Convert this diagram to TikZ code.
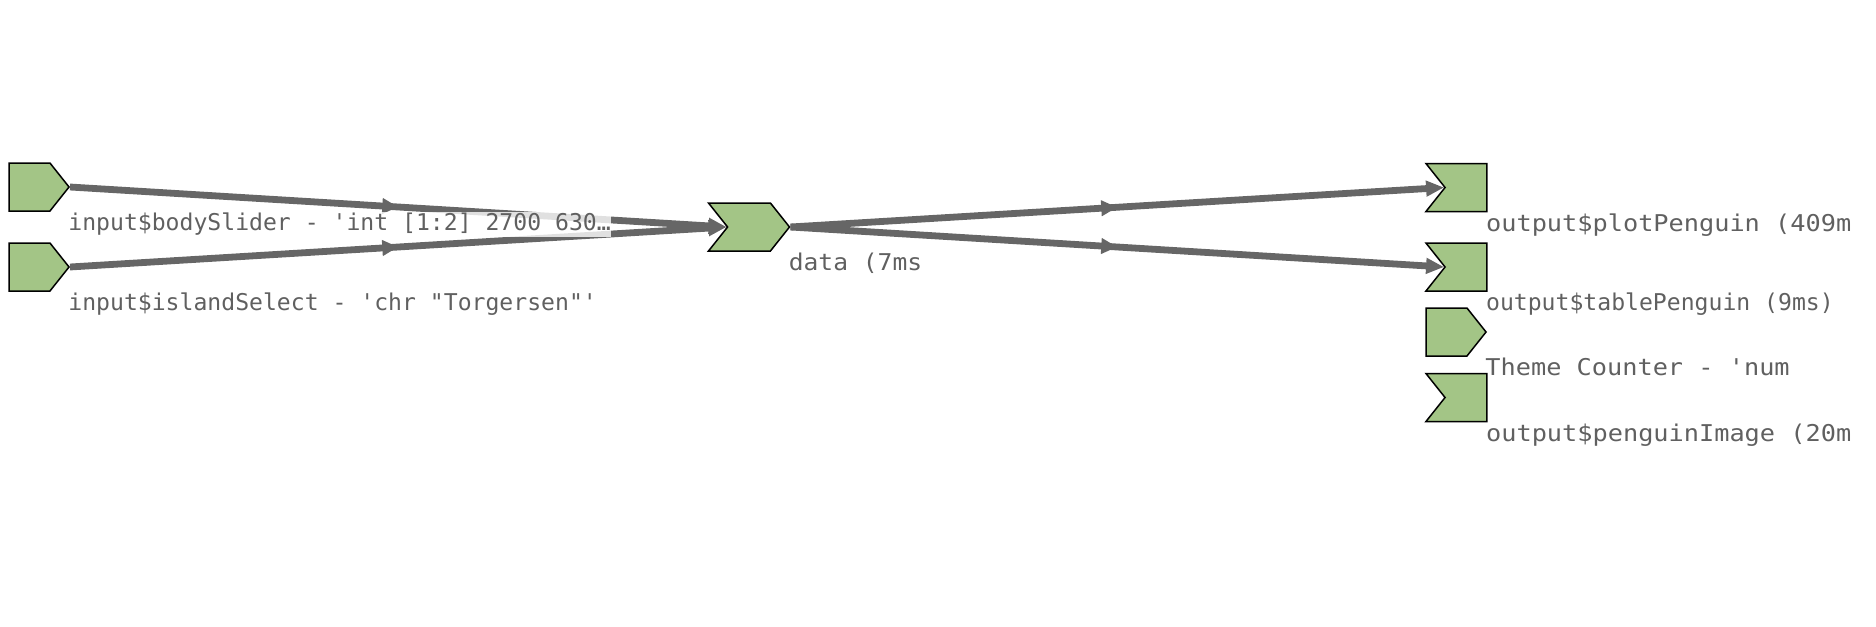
\documentclass[tikz,border=0pt]{standalone}
\usepackage{fontspec}
\setmonofont{DejaVu Sans Mono}
\usetikzlibrary{shapes.symbols,arrows.meta,decorations.markings}
\definecolor{nodegreen}{HTML}{A3C586}
\definecolor{edgegray}{HTML}{666666}
\definecolor{labelgray}{HTML}{606060}
\tikzset{
  reactnode/.style={shape=signal, draw=black, line width=0.75pt, fill=nodegreen,
    minimum height=24pt, inner sep=0pt, signal pointer angle=103},
  inputnode/.style={reactnode, signal to=east, minimum width=30pt},
  midnode/.style={reactnode, signal from=west, signal to=east, minimum width=40.5pt},
  outputnode/.style={reactnode, signal from=west, signal to=nowhere, minimum width=30.5pt},
  flow/.style={color=edgegray, line width=3.4pt, -{Triangle[length=9pt,width=7.5pt]},
    postaction=decorate, decoration={markings,
      mark=at position 0.5 with {\arrow{Triangle[length=8pt,width=7.5pt]}}}},
  lbl/.style={anchor=north west, font=\ttfamily\fontsize{11.55}{13}\selectfont,
    text=labelgray, xshift=-1pt,
    inner xsep=0pt, inner ysep=0.5pt, text height=8.9pt, text depth=2.6pt},
  lblcover/.style={lbl, fill=white, fill opacity=0.8, text opacity=1},
}
\begin{document}
\begin{tikzpicture}[x=0.5pt,y=-0.5pt]
    %initialisation
    \useasboundingbox (0,0) rectangle (1876,627);
    %definitions
    \node[inputnode] (bodySlider) at (29.5,187) {};
    \node[inputnode] (islandSelect) at (29.5,267) {};
    \node[midnode] (data) at (749,227) {};
    \node[outputnode] (plotPenguin) at (1466,187.5) {};
    \node[outputnode] (tablePenguin) at (1466,267) {};
    \node[inputnode] (themeCounter) at (1446.5,332) {};
    \node[outputnode] (penguinImage) at (1466,397.5) {};
    %drawing
    \draw[flow] (bodySlider.east) -- (data.west);
    \draw[flow] (islandSelect.east) -- (data.west);
    \draw[flow] (data.east) -- (plotPenguin.west);
    \draw[flow] (data.east) -- (tablePenguin.west);
    %label
    \node[lblcover] (bodySliderLabel) at (bodySlider.south -| bodySlider.east) {input\$bodySlider - 'int [1:2] 2700 630…};
    \node[lbl] (islandSelectLabel) at (islandSelect.south -| islandSelect.east) {input\$islandSelect - 'chr "Torgersen"'};
    \node[lbl] (dataLabel) at (data.south -| data.east) {\scalebox{1.065}[1]{data (7ms}};
    \node[lbl] (plotPenguinLabel) at (plotPenguin.south -| plotPenguin.east) {\scalebox{1.094}[1]{output\$plotPenguin (409m}};
    \node[lbl] (tablePenguinLabel) at (tablePenguin.south -| tablePenguin.east) {output\$tablePenguin (9ms)};
    \node[lbl] (themeCounterLabel) at (themeCounter.south -| themeCounter.east) {\scalebox{1.094}[1]{Theme Counter - 'num}};
    \node[lbl] (penguinImageLabel) at (penguinImage.south -| penguinImage.east) {\scalebox{1.094}[1]{output\$penguinImage (20m}};
\end{tikzpicture}
\end{document}
